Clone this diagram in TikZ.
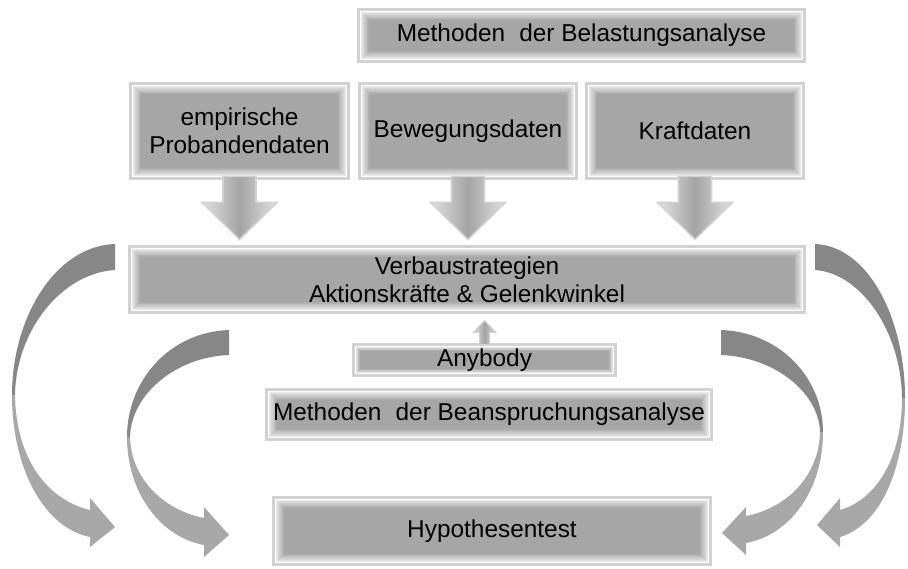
\documentclass[tikz,border=0pt]{standalone}
\usepackage{fontspec}
\setmainfont{Liberation Sans}
\usepackage{xcolor}
\usepackage{tikz}
\usetikzlibrary{positioning,calc}

\definecolor{panelgray}{HTML}{A6A6A6}
\definecolor{framegray}{HTML}{D2D2D2}
\definecolor{bevelgray}{HTML}{E8E8E8}
\definecolor{banddark}{HTML}{878787}
\definecolor{bandlight}{HTML}{A8A8A8}
\definecolor{arrowlight}{HTML}{E2E2E2}
\definecolor{arrowdark}{HTML}{A4A4A4}
\newcommand{\panelfont}{\fontsize{12.2}{14}\selectfont}
\newcommand{\gap}{\hspace{0.3em} }

\begin{document}
\begin{tikzpicture}[x=0.5pt, y=-0.5pt,
    panel/.style={fill=panelgray, inner sep=0pt, align=center, font=\panelfont,
      path picture={
        \fill[framegray] (path picture bounding box.south west) rectangle (path picture bounding box.north east);
        \fill[white] ([shift={(1.5pt,1.5pt)}]path picture bounding box.south west) rectangle ([shift={(-1.5pt,-1.5pt)}]path picture bounding box.north east);
        \foreach \i [evaluate=\i as \d using 2+#1*\i/10, evaluate=\i as \p using int(10*\i)] in {0,...,10}
          \fill[panelgray!\p!bevelgray] ([shift={(\d pt,\d pt)}]path picture bounding box.south west) rectangle ([shift={(-\d pt,-\d pt)}]path picture bounding box.north east);
      }},
    panel/.default=4,
    blockarrow/.style={draw=framegray, line width=0.8pt, left color=arrowlight, right color=arrowlight, middle color=arrowdark},
    bandtop/.style={fill=banddark},
    bandbottom/.style={fill=bandlight},
  ]
    \useasboundingbox (0,0) rectangle (908,568);

    % Belastungsanalyse
    \node[panel, minimum width=224.5pt, minimum height=27.5pt] (belast) at (581.5,35.5) {Methoden\gap der Belastungsanalyse};

    % Datenquellen
    \node[panel, minimum width=110.5pt, minimum height=49pt] (emp) at (239.5,131) {empirische\\Probandendaten};
    \node[panel, minimum width=110pt, minimum height=49pt] (bew) at (468,131) {Bewegungsdaten};
    \node[panel, minimum width=110pt, minimum height=49pt] (kraft) at (695,131) {Kraftdaten};

    % Pfeile nach unten
    \foreach \n in {emp,bew,kraft}
      \draw[blockarrow] (\n.south) ++(-16.5,-4) -- ++(0,26) -- ++(-21,0) -- ++(37.5,37) -- ++(37.5,-37) -- ++(-21,0) -- ++(0,-26) -- cycle;

    % Verbaustrategien
    \node[panel, minimum width=339pt, minimum height=34.5pt] (verbau) at (467,279.5) {Verbaustrategien\\Aktionskr\"afte \& Gelenkwinkel};

    % Anybody
    \node[panel=2, minimum width=132.5pt, minimum height=17pt] (any) at (484.5,360) {Anybody};
    \draw[blockarrow, line width=0.5pt] (any.north) ++(-5,2) -- ++(0,-12) -- ++(-6.5,0) -- ++(11.5,-12) -- ++(11.5,12) -- ++(-6.5,0) -- ++(0,12) -- cycle;

    % Beanspruchungsanalyse
    \node[panel, minimum width=224pt, minimum height=26.5pt] (bean) at (489,414.5) {Methoden\gap der Beanspruchungsanalyse};

    % Hypothesentest
    \node[panel, minimum width=220pt, minimum height=35pt] (hyp) at (492,531) {Hypothesentest};

    % Bogenpfeile links
    \fill[bandtop] (115,244) .. controls (55,246) and (12,318) .. (12,395) -- (15,395) .. controls (16,330) and (62,273) .. (115,270) -- cycle;
    \fill[bandbottom] (12,395) .. controls (12,470) and (45,528) .. (90,537) -- (90,547) -- (115,527) -- (90,498) -- (90,510) .. controls (48,500) and (16,460) .. (15,395) -- cycle;
    \fill[bandtop] (229,330) .. controls (170,332) and (127,380) .. (127,437) -- (130,437) .. controls (131,395) and (175,357) .. (229,355) -- cycle;
    \fill[bandbottom] (127,437) .. controls (127,492) and (160,537) .. (204,545) -- (204,557) -- (229,535) -- (204,507) -- (204,518) .. controls (163,510) and (131,478) .. (130,437) -- cycle;

    % Bogenpfeile rechts
    \fill[bandtop] (721,330) .. controls (780,332) and (823,378) .. (823,432) -- (820,432) .. controls (819,393) and (775,357) .. (721,355) -- cycle;
    \fill[bandbottom] (823,432) .. controls (823,490) and (790,535) .. (746,543) -- (746,555) -- (722,533) -- (746,507) -- (746,516) .. controls (787,508) and (819,476) .. (820,432) -- cycle;
    \fill[bandtop] (815,244) .. controls (868,246) and (905,318) .. (905,398) -- (902,398) .. controls (901,330) and (860,273) .. (815,270) -- cycle;
    \fill[bandbottom] (905,398) .. controls (905,470) and (880,525) .. (840,537) -- (840,547) -- (817,525) -- (840,498) -- (840,510) .. controls (875,500) and (902,460) .. (902,398) -- cycle;

  \end{tikzpicture}
\end{document}
